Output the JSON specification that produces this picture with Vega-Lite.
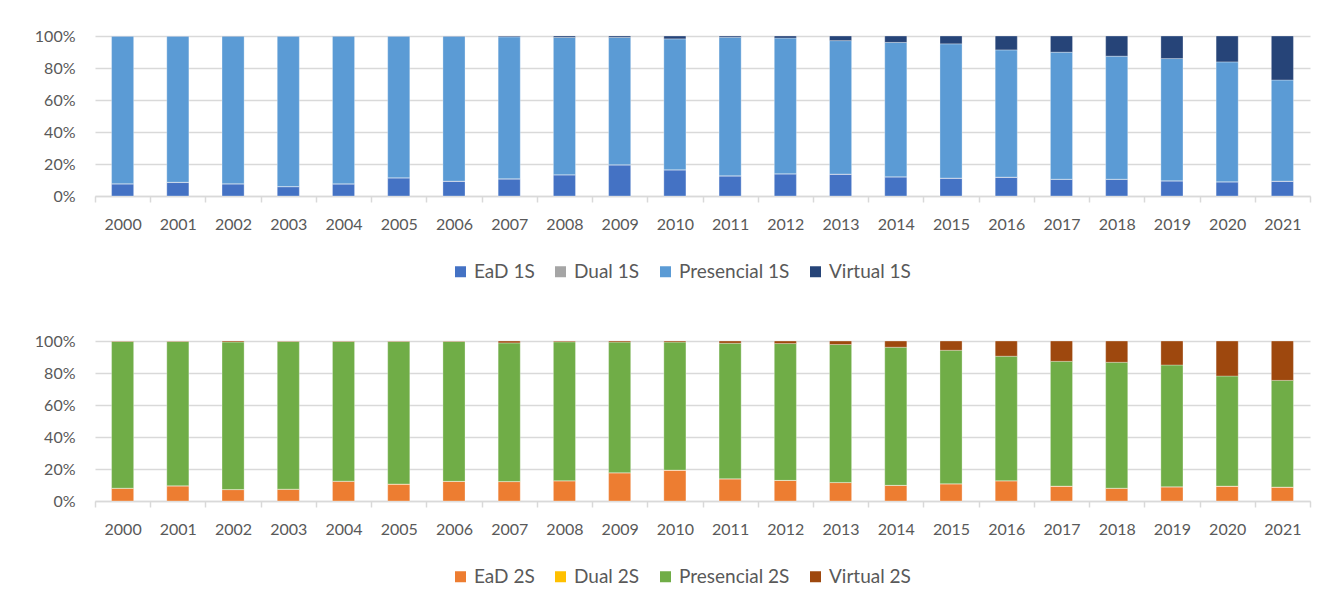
{
  "$schema": "https://vega.github.io/schema/vega-lite/v6.json",
  "background": "white",
  "padding": {"left": 34, "top": 28, "right": 10, "bottom": 0},
  "spacing": 51,
  "config": {
    "font": "Lato",
    "view": {"stroke": null},
    "axis": {"labelFont": "Lato", "labelFontSize": 16, "labelColor": "#595959", "title": null},
    "legend": {"labelFont": "Lato", "labelFontSize": 19, "labelColor": "#595959", "symbolType": "square", "symbolSize": 121, "symbolStrokeWidth": 0, "labelOffset": 4, "columnPadding": 16, "orient": "none", "direction": "horizontal", "title": null, "legendX": 356, "legendY": 226}
  },
  "datasets": {
    "s1": [
      {"year": "2000", "EaD 1S": 7.5, "Dual 1S": 0.2, "Presencial 1S": 92.2, "Virtual 1S": 0.1},
      {"year": "2001", "EaD 1S": 8.4, "Dual 1S": 0.2, "Presencial 1S": 91.3, "Virtual 1S": 0.1},
      {"year": "2002", "EaD 1S": 7.5, "Dual 1S": 0.2, "Presencial 1S": 92.2, "Virtual 1S": 0.1},
      {"year": "2003", "EaD 1S": 5.8, "Dual 1S": 0.1, "Presencial 1S": 94.0, "Virtual 1S": 0.1},
      {"year": "2004", "EaD 1S": 7.5, "Dual 1S": 0.1, "Presencial 1S": 92.3, "Virtual 1S": 0.1},
      {"year": "2005", "EaD 1S": 11.3, "Dual 1S": 0.1, "Presencial 1S": 88.5, "Virtual 1S": 0.1},
      {"year": "2006", "EaD 1S": 9.2, "Dual 1S": 0.1, "Presencial 1S": 90.5, "Virtual 1S": 0.2},
      {"year": "2007", "EaD 1S": 10.6, "Dual 1S": 0.2, "Presencial 1S": 88.7, "Virtual 1S": 0.5},
      {"year": "2008", "EaD 1S": 13.2, "Dual 1S": 0.1, "Presencial 1S": 85.8, "Virtual 1S": 0.9},
      {"year": "2009", "EaD 1S": 19.4, "Dual 1S": 0.1, "Presencial 1S": 79.6, "Virtual 1S": 0.9},
      {"year": "2010", "EaD 1S": 16.3, "Dual 1S": 0.1, "Presencial 1S": 81.8, "Virtual 1S": 1.8},
      {"year": "2011", "EaD 1S": 12.5, "Dual 1S": 0.1, "Presencial 1S": 86.6, "Virtual 1S": 0.8},
      {"year": "2012", "EaD 1S": 13.8, "Dual 1S": 0.1, "Presencial 1S": 84.8, "Virtual 1S": 1.3},
      {"year": "2013", "EaD 1S": 13.6, "Dual 1S": 0.1, "Presencial 1S": 83.4, "Virtual 1S": 2.9},
      {"year": "2014", "EaD 1S": 11.9, "Dual 1S": 0.1, "Presencial 1S": 84.0, "Virtual 1S": 4.0},
      {"year": "2015", "EaD 1S": 11.1, "Dual 1S": 0.1, "Presencial 1S": 83.9, "Virtual 1S": 4.9},
      {"year": "2016", "EaD 1S": 11.7, "Dual 1S": 0.1, "Presencial 1S": 79.5, "Virtual 1S": 8.7},
      {"year": "2017", "EaD 1S": 10.4, "Dual 1S": 0.1, "Presencial 1S": 79.4, "Virtual 1S": 10.1},
      {"year": "2018", "EaD 1S": 10.4, "Dual 1S": 0.1, "Presencial 1S": 76.9, "Virtual 1S": 12.6},
      {"year": "2019", "EaD 1S": 9.4, "Dual 1S": 0.1, "Presencial 1S": 76.4, "Virtual 1S": 14.1},
      {"year": "2020", "EaD 1S": 8.8, "Dual 1S": 0.1, "Presencial 1S": 74.9, "Virtual 1S": 16.2},
      {"year": "2021", "EaD 1S": 9.2, "Dual 1S": 0.1, "Presencial 1S": 63.2, "Virtual 1S": 27.5}
    ],
    "s2": [
      {"year": "2000", "EaD 2S": 7.9, "Dual 2S": 0.1, "Presencial 2S": 91.7, "Virtual 2S": 0.3},
      {"year": "2001", "EaD 2S": 9.4, "Dual 2S": 0.1, "Presencial 2S": 90.2, "Virtual 2S": 0.3},
      {"year": "2002", "EaD 2S": 7.1, "Dual 2S": 0.1, "Presencial 2S": 92.2, "Virtual 2S": 0.6},
      {"year": "2003", "EaD 2S": 7.3, "Dual 2S": 0.1, "Presencial 2S": 92.3, "Virtual 2S": 0.3},
      {"year": "2004", "EaD 2S": 12.3, "Dual 2S": 0.1, "Presencial 2S": 87.3, "Virtual 2S": 0.3},
      {"year": "2005", "EaD 2S": 10.5, "Dual 2S": 0.1, "Presencial 2S": 89.1, "Virtual 2S": 0.3},
      {"year": "2006", "EaD 2S": 12.2, "Dual 2S": 0.1, "Presencial 2S": 87.4, "Virtual 2S": 0.3},
      {"year": "2007", "EaD 2S": 12.1, "Dual 2S": 0.1, "Presencial 2S": 86.6, "Virtual 2S": 1.2},
      {"year": "2008", "EaD 2S": 12.6, "Dual 2S": 0.1, "Presencial 2S": 86.8, "Virtual 2S": 0.5},
      {"year": "2009", "EaD 2S": 17.6, "Dual 2S": 0.1, "Presencial 2S": 81.6, "Virtual 2S": 0.7},
      {"year": "2010", "EaD 2S": 19.2, "Dual 2S": 0.1, "Presencial 2S": 80.0, "Virtual 2S": 0.7},
      {"year": "2011", "EaD 2S": 13.8, "Dual 2S": 0.1, "Presencial 2S": 84.7, "Virtual 2S": 1.4},
      {"year": "2012", "EaD 2S": 12.8, "Dual 2S": 0.1, "Presencial 2S": 85.5, "Virtual 2S": 1.6},
      {"year": "2013", "EaD 2S": 11.5, "Dual 2S": 0.1, "Presencial 2S": 86.2, "Virtual 2S": 2.2},
      {"year": "2014", "EaD 2S": 9.7, "Dual 2S": 0.1, "Presencial 2S": 86.3, "Virtual 2S": 3.9},
      {"year": "2015", "EaD 2S": 10.7, "Dual 2S": 0.1, "Presencial 2S": 83.4, "Virtual 2S": 5.8},
      {"year": "2016", "EaD 2S": 12.6, "Dual 2S": 0.1, "Presencial 2S": 77.8, "Virtual 2S": 9.5},
      {"year": "2017", "EaD 2S": 9.2, "Dual 2S": 0.1, "Presencial 2S": 78.0, "Virtual 2S": 12.7},
      {"year": "2018", "EaD 2S": 7.9, "Dual 2S": 0.1, "Presencial 2S": 78.7, "Virtual 2S": 13.3},
      {"year": "2019", "EaD 2S": 8.8, "Dual 2S": 0.1, "Presencial 2S": 76.1, "Virtual 2S": 15.0},
      {"year": "2020", "EaD 2S": 9.2, "Dual 2S": 0.1, "Presencial 2S": 68.8, "Virtual 2S": 21.9},
      {"year": "2021", "EaD 2S": 8.6, "Dual 2S": 0.1, "Presencial 2S": 66.7, "Virtual 2S": 24.6}
    ]
  },
  "vconcat": [
    {
      "width": 1215,
      "height": 160,
      "data": {"name": "s1"},
      "transform": [
        {"fold": ["EaD 1S", "Dual 1S", "Presencial 1S", "Virtual 1S"], "as": ["serie", "pct"]},
        {"window": [{"op": "row_number", "as": "k"}], "groupby": ["year"]}
      ],
      "mark": {"type": "bar", "width": {"band": 0.4}, "stroke": "white", "strokeWidth": 0.5, "strokeOpacity": 0.6},
      "encoding": {
        "x": {"field": "year", "type": "ordinal", "scale": {"paddingInner": 0, "paddingOuter": 0},
          "axis": {"labelAngle": 0, "tickBand": "extent", "tickSize": 6, "tickColor": "#d9d9d9", "tickWidth": 1.5, "domainColor": "#d9d9d9", "domainWidth": 1.5, "labelPadding": 14, "grid": false}},
        "y": {"field": "pct", "type": "quantitative", "stack": "normalize", "scale": {"domain": [0, 1]},
          "axis": {"values": [0, 0.2, 0.4, 0.6, 0.8, 1], "format": ".0%", "domain": false, "ticks": false, "labelPadding": 20, "gridColor": "#d9d9d9", "gridWidth": 1.5}},
        "order": {"field": "k", "type": "quantitative", "sort": "ascending"},
        "color": {"field": "serie", "type": "nominal", "sort": ["EaD 1S", "Dual 1S", "Presencial 1S", "Virtual 1S"],
          "scale": {"domain": ["EaD 1S", "Dual 1S", "Presencial 1S", "Virtual 1S"], "range": ["#4472C4", "#A5A5A5", "#5B9BD5", "#264478"]}}
      }
    },
    {
      "width": 1215,
      "height": 160,
      "data": {"name": "s2"},
      "transform": [
        {"fold": ["EaD 2S", "Dual 2S", "Presencial 2S", "Virtual 2S"], "as": ["serie", "pct"]},
        {"window": [{"op": "row_number", "as": "k"}], "groupby": ["year"]}
      ],
      "mark": {"type": "bar", "width": {"band": 0.4}, "stroke": "white", "strokeWidth": 0.5, "strokeOpacity": 0.6},
      "encoding": {
        "x": {"field": "year", "type": "ordinal", "scale": {"paddingInner": 0, "paddingOuter": 0},
          "axis": {"labelAngle": 0, "tickBand": "extent", "tickSize": 6, "tickColor": "#d9d9d9", "tickWidth": 1.5, "domainColor": "#d9d9d9", "domainWidth": 1.5, "labelPadding": 14, "grid": false}},
        "y": {"field": "pct", "type": "quantitative", "stack": "normalize", "scale": {"domain": [0, 1]},
          "axis": {"values": [0, 0.2, 0.4, 0.6, 0.8, 1], "format": ".0%", "domain": false, "ticks": false, "labelPadding": 20, "gridColor": "#d9d9d9", "gridWidth": 1.5}},
        "order": {"field": "k", "type": "quantitative", "sort": "ascending"},
        "color": {"field": "serie", "type": "nominal", "sort": ["EaD 2S", "Dual 2S", "Presencial 2S", "Virtual 2S"],
          "scale": {"domain": ["EaD 2S", "Dual 2S", "Presencial 2S", "Virtual 2S"], "range": ["#ED7D31", "#FFC000", "#70AD47", "#9E480E"]}}
      }
    }
  ],
  "resolve": {"scale": {"color": "independent", "x": "independent", "y": "independent"}}
}
